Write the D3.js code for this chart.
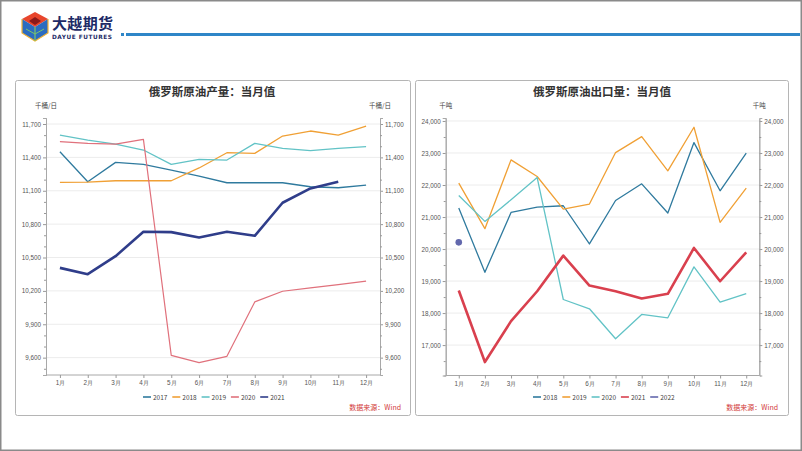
<!DOCTYPE html>
<html><head><meta charset="utf-8">
<script src="https://cdn.jsdelivr.net/npm/d3@7"></script>
<style>
html,body{margin:0;padding:0;background:#fff;}
svg{display:block;font-family:"Microsoft YaHei","Noto Sans CJK SC","Noto Sans",sans-serif;}
</style></head>
<body>
<svg id="c" width="802" height="451"></svg>
<script>
const months = ["1月","2月","3月","4月","5月","6月","7月","8月","9月","10月","11月","12月"];

// Left chart: 俄罗斯原油产量 (千桶/日)
const prodYears = ["2017","2018","2019","2020","2021"];
const prod2017 = [11451,11181,11355,11337,11286,11232,11172,11172,11172,11136,11127,11151];
const prod2018 = [11175,11178,11190,11190,11190,11305,11442,11436,11592,11637,11601,11680];
const prod2019 = [11601,11556,11520,11466,11337,11382,11376,11526,11481,11460,11481,11496];
const prod2020 = [11541,11526,11520,11562,9621,9555,9612,10101,10197,10227,10257,10287];
const prod2021 = [10407,10350,10512,10731,10728,10680,10731,10695,10992,11121,11181,null];
const prodTicks = [9600,9900,10200,10500,10800,11100,11400,11700];

// Right chart: 俄罗斯原油出口量 (千吨)
const expYears = ["2018","2019","2020","2021","2022"];
const exp2018 = [21280,19274,21143,21311,21352,20159,21517,22037,21125,23325,21819,22994];
const exp2019 = [22059,20636,22785,22265,21249,21405,23013,23511,22442,23804,20832,21903];
const exp2020 = [21674,20863,21539,22234,18424,18134,17199,17956,17853,19442,18340,18611];
const exp2021 = [18704,16470,17748,18682,19794,18860,18682,18455,18601,20034,18994,19897];
const exp2022 = [20209,null,null,null,null,null,null,null,null,null,null,null];
const expTicks = [17000,18000,19000,20000,21000,22000,23000,24000];

const svg = d3.select("#c");
const fmt = d3.format(",");

// page frame
svg.append("rect").attr("x",0.75).attr("y",0.75).attr("width",800.5).attr("height",449.5)
  .attr("fill","none").attr("stroke","#8a8a8a").attr("stroke-width",1.5);

// header logo
const lg = svg.append("g");
lg.append("polygon").attr("points","35,12 48,19 35,27 22,19").attr("fill","#e8452c");
lg.append("polygon").attr("points","22,19 35,27 35,41 22,33").attr("fill","#2b6cc0");
lg.append("polygon").attr("points","48,19 35,27 35,41 48,33").attr("fill","#2b6cc0");
lg.append("polygon").attr("points","35,17 41,21 35,25 29,21").attr("fill","#8c1a1a");
lg.append("polyline").attr("points","22,19 22,33 35,41 48,33 48,19").attr("fill","none").attr("stroke","#f2b233").attr("stroke-width",1.2);
lg.append("line").attr("x1",35).attr("y1",27).attr("x2",35).attr("y2",41).attr("stroke","#7cc46a").attr("stroke-width",1.2);
lg.append("polyline").attr("points","26,29 35,34 44,29").attr("fill","none").attr("stroke","#7cc46a").attr("stroke-width",1);
svg.append("text").attr("x",52).attr("y",28.5).attr("font-size",15).attr("font-weight","bold")
  .attr("fill","#1d2a66").attr("textLength",61).text("大越期货");
svg.append("text").attr("x",52).attr("y",39).attr("font-size",5.8).attr("font-weight","bold")
  .attr("fill","#1d2a66").attr("textLength",60).attr("lengthAdjust","spacing")
  .attr("font-family","DejaVu Sans, sans-serif").text("DAYUE FUTURES");
svg.append("rect").attr("x",121).attr("y",33).attr("width",3).attr("height",3).attr("fill","#2e86c8");
svg.append("rect").attr("x",126).attr("y",33).attr("width",674).attr("height",3).attr("fill","#2e86c8");

function drawChart(cfg){
  const g = svg.append("g");
  g.append("rect").attr("x",cfg.px).attr("y",cfg.py).attr("width",cfg.pw).attr("height",cfg.ph)
    .attr("rx",2).attr("fill","#fff").attr("stroke","#b5b5b5").attr("stroke-width",1);
  g.append("text").attr("x",cfg.titleX).attr("y",96).attr("text-anchor","middle")
    .attr("font-size",11.5).attr("font-weight","bold").attr("fill","#333").text(cfg.title);

  const x = d3.scalePoint().domain(months).range([cfg.x0, cfg.x1]).padding(0.5);
  const y = d3.scaleLinear().domain(cfg.domain).range([cfg.yb, cfg.yt]);

  // grid
  g.append("g").selectAll("line").data(cfg.ticks).join("line")
    .attr("x1",cfg.x0).attr("x2",cfg.x1).attr("y1",d=>y(d)).attr("y2",d=>y(d))
    .attr("stroke","#ececec").attr("stroke-width",1);

  const yl = d3.axisLeft(y).tickValues(cfg.ticks).tickFormat(fmt).tickSize(3).tickPadding(2);
  const yr = d3.axisRight(y).tickValues(cfg.ticks).tickFormat(fmt).tickSize(3).tickPadding(2);
  const ylm = d3.axisLeft(y).tickValues(cfg.minor).tickFormat("").tickSize(2);
  const yrm = d3.axisRight(y).tickValues(cfg.minor).tickFormat("").tickSize(2);
  const xa = d3.axisBottom(x).tickSize(3).tickPadding(3);

  [ [yl,cfg.x0],[ylm,cfg.x0] ].forEach(([a,px])=>{
    g.append("g").attr("transform",`translate(${px},0)`).call(a).call(s=>styleAxis(s));
  });
  [ [yr,cfg.x1],[yrm,cfg.x1] ].forEach(([a,px])=>{
    g.append("g").attr("transform",`translate(${px},0)`).call(a).call(s=>styleAxis(s));
  });
  g.append("g").attr("transform",`translate(0,${cfg.yb})`).call(xa).call(s=>styleAxis(s))
    .call(s=>s.select(".domain").attr("d",`M${cfg.x0},0H${cfg.x1}`));

  g.append("text").attr("x",cfg.x0).attr("y",108).attr("text-anchor","middle")
    .attr("font-size",6.5).attr("fill","#444").text(cfg.unit);
  g.append("text").attr("x",cfg.x1).attr("y",108).attr("text-anchor","middle")
    .attr("font-size",6.5).attr("fill","#444").text(cfg.unit);

  const line = d3.line().defined(d=>d!=null).x((d,i)=>x(months[i])).y(d=>y(d));
  cfg.series.forEach(s=>{
    const n = s.values.filter(v=>v!=null).length;
    if(n>1){
      g.append("path").datum(s.values).attr("d",line).attr("fill","none")
        .attr("stroke",s.color).attr("stroke-width",s.w).attr("stroke-linejoin","round");
    } else {
      s.values.forEach((v,i)=>{ if(v!=null) g.append("circle").attr("cx",x(months[i])).attr("cy",y(v))
        .attr("r",3.3).attr("fill",s.color); });
    }
  });

  // legend
  const lgd = g.append("g");
  cfg.series.forEach((s,i)=>{
    const lx = cfg.legX + i*29.3;
    lgd.append("line").attr("x1",lx).attr("x2",lx+8).attr("y1",397).attr("y2",397)
      .attr("stroke",s.color).attr("stroke-width",1.6);
    lgd.append("text").attr("x",lx+10).attr("y",399.5).attr("font-size",6.5).attr("fill","#444").text(s.name);
  });
  g.append("text").attr("x",cfg.srcX).attr("y",410).attr("text-anchor","end")
    .attr("font-size",7).attr("fill","#d23a3a").text("数据来源：Wind");
}

function styleAxis(s){
  s.selectAll(".domain").attr("stroke","#a8a8a8");
  s.selectAll(".tick line").attr("stroke","#999");
  s.selectAll(".tick text").attr("font-size",6.3).attr("fill","#555")
    .attr("font-family","Liberation Sans, Arial, sans-serif");
}

drawChart({
  px:15.5, py:80.5, pw:395, ph:335,
  title:"俄罗斯原油产量：当月值", titleX:212, unit:"千桶/日",
  x0:46, x1:380, yb:375, yt:118,
  domain:[9444,11754], ticks:prodTicks,
  minor:d3.range(9500,11751,100).filter(v=>!prodTicks.includes(v)),
  legX:143, srcX:401,
  series:[
    {name:prodYears[0], values:prod2017, color:"#2f7a9e", w:1.3},
    {name:prodYears[1], values:prod2018, color:"#f0a035", w:1.3},
    {name:prodYears[2], values:prod2019, color:"#62c3c6", w:1.3},
    {name:prodYears[3], values:prod2020, color:"#e0717c", w:1.2},
    {name:prodYears[4], values:prod2021, color:"#2f3d8a", w:2.6}
  ]
});

drawChart({
  px:415.5, py:80.5, pw:373, ph:335,
  title:"俄罗斯原油出口量：当月值", titleX:602, unit:"千吨",
  x0:445.7, x1:759.3, yb:375.5, yt:118,
  domain:[16050,24093], ticks:expTicks,
  minor:d3.range(16500,24001,500).filter(v=>!expTicks.includes(v)),
  legX:533, srcX:778,
  series:[
    {name:expYears[0], values:exp2018, color:"#2f7a9e", w:1.3},
    {name:expYears[1], values:exp2019, color:"#f0a035", w:1.3},
    {name:expYears[2], values:exp2020, color:"#62c3c6", w:1.3},
    {name:expYears[3], values:exp2021, color:"#d9404e", w:2.6},
    {name:expYears[4], values:exp2022, color:"#6268ad", w:1.6}
  ]
});
</script>
</body></html>
